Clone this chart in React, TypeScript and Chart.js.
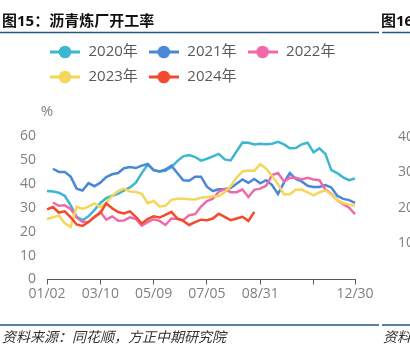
import React, { useEffect, useRef } from 'react';
import { Chart, registerables } from 'chart.js';

Chart.register(...registerables);

const FONT = '"Open Sans", "Noto Sans CJK SC", sans-serif';

const TITLE = '图15：沥青炼厂开工率';
const NEXT_TITLE = '图16';
const SOURCE = '资料来源：同花顺，方正中期研究院';
const NEXT_SOURCE = '资料来源';
const UNIT = '%';

const dates = [
  '01/02', '01/10', '01/17', '01/24', '01/31', '02/07', '02/14', '02/21', '02/28',
  '03/10', '03/17', '03/24', '03/31', '04/07', '04/14', '04/21', '04/28', '05/02',
  '05/09', '05/16', '05/23', '05/30', '06/06', '06/13', '06/20', '06/27', '06/30',
  '07/05', '07/12', '07/19', '07/26', '08/02', '08/09', '08/16', '08/23', '08/28',
  '08/31', '09/07', '09/14', '09/21', '09/28', '10/08', '10/15', '10/22', '10/29',
  '11/05', '11/12', '11/19', '11/26', '12/03', '12/10', '12/17', '12/30',
];
const shownTickIdx = [0, 9, 18, 27, 36, 52];
const blankTickIdx = [45];

const seriesNames = ['2020年', '2021年', '2022年', '2023年', '2024年'];
const seriesColors = ['#3db6d0', '#4a88d6', '#f06aa9', '#f5d65b', '#f24a2a'];

const v2020 = [37, 36.8, 36.3, 35, 31, 26.2, 24.8, 26.4, 29, 32, 34, 35, 35.8, 37.2, 38.5, 40.5, 44.5, 48, 45.7, 45.2, 45.5, 47, 49.5, 51.5, 52, 51.2, 49.7, 50.5, 51.5, 52.5, 50.2, 49.8, 53.5, 57.3, 57.2, 56.5, 56.8, 56.6, 56.8, 57.6, 56.5, 54.9, 55, 56.5, 57.2, 53.2, 54.8, 52.5, 45.7, 44.5, 42.7, 41.5, 42.2];
const v2021 = [null, 46.3, 45, 45, 43, 38, 37.2, 40.3, 39, 40.5, 42.8, 44, 44.5, 46.5, 47, 46.6, 47.6, 48.3, 45.7, 45.2, 46, 47.6, 44.5, 41.5, 41.3, 43, 43, 38.8, 37, 37.7, 37.8, 38.2, 40, 41.8, 40.4, 42, 40.2, 41.5, 39.5, 35.7, 40.5, 44.5, 42, 41, 39.2, 38.7, 38.7, 39.5, 38.5, 35, 33.7, 33.2, 32];
const v2022 = [null, 32.2, 30.8, 31, 29.5, 26, 24, 24, 26, 28.3, 25, 26.4, 24.6, 24.7, 26, 25.3, 22.5, 24, 25.2, 24.5, 22.8, 25.5, 25.3, 24.8, 26.9, 27.3, 30.5, 32.8, 33.8, 36.7, 37.8, 36.5, 36.5, 37.6, 34.5, 37.5, 38, 39.2, 43.7, 44.5, 41, 42.5, 42.5, 41.8, 42.5, 41.8, 41.5, 37.6, 35.8, 33.2, 31.5, 30, 27.3];
const v2023 = [25.3, 26, 26.8, 23.5, 22, 30.5, 29.5, 30.5, 31.8, 30.3, 32, 35, 37, 38, 36.8, 36.6, 35.8, 31.9, 32.9, 30.5, 30.8, 33.3, 33.8, 33.8, 33.6, 33.5, 34.2, 34.5, 34.8, 34.8, 36.5, 39, 42.5, 45.2, 45.6, 45.5, 48.2, 46.3, 43.3, 39.9, 35.6, 35.6, 37.5, 37.6, 36.4, 35.2, 36.5, 37.3, 35.5, 33.2, 32, 31.3, 30.8];
const v2024 = [29.3, 30.3, 28, 28.5, 26, 23, 22.4, 24, 26.2, 27.8, 31.8, 29.8, 28.2, 27.6, 28.5, 26.2, 23.4, 25.3, 26.4, 25.9, 27, 28.3, 25.5, 24.5, 22.8, 24, 25, 24.8, 25.5, 27.5, 26.2, 24.8, 25.5, 26.2, 24.5, 28.3];
const seriesValues = [v2020, v2021, v2022, v2023, v2024];

const yMin = 0;
const yMax = 60;
const yStep = 10;
const nextAxisLabels = ['40', '30', '20', '10'];

const RULE_COLOR = '#1f5a8c';

const legendShift = {
  id: 'legendShift',
  beforeInit(chart: any) {
    const legend = chart.legend;
    if (legend) {
      const orig = legend.fit;
      legend.fit = function () {
        orig.call(this);
        this.height += 41.5;
      };
    }
  },
  afterLayout(chart: any) {
    if (chart.legend) chart.legend.left = 39;
  },
};

const decor = {
  id: 'decor',
  afterDraw(chart: any) {
    const { ctx, chartArea } = chart;
    ctx.save();
    ctx.textBaseline = 'middle';
    ctx.textAlign = 'left';
    ctx.fillStyle = '#111111';
    ctx.font = `bold 15px ${FONT}`;
    ctx.fillText(TITLE, 2, 22);
    ctx.fillText(NEXT_TITLE, 381, 22);

    ctx.strokeStyle = RULE_COLOR;
    ctx.lineWidth = 1.5;
    [32.5, 325].forEach((y) => {
      ctx.beginPath();
      ctx.moveTo(0, y);
      ctx.lineTo(379, y);
      ctx.moveTo(382, y);
      ctx.lineTo(410, y);
      ctx.stroke();
    });

    ctx.fillStyle = '#7f7f7f';
    ctx.font = `15px ${FONT}`;
    ctx.textAlign = 'center';
    ctx.fillText(UNIT, chartArea.left, 112);

    ctx.textAlign = 'left';
    ctx.font = `14px ${FONT}`;
    nextAxisLabels.forEach((t, i) => ctx.fillText(t, 398, 137 + i * 35.4));

    ctx.fillStyle = '#333333';
    ctx.font = `italic 14px ${FONT}`;
    ctx.fillText(SOURCE, 2, 338);
    ctx.fillText(NEXT_SOURCE, 383, 338);
    ctx.restore();
  },
};

export default function App() {
  const ref = useRef<HTMLCanvasElement>(null);

  useEffect(() => {
    document.body.style.margin = '0';
    const canvas = ref.current;
    if (!canvas) return;

    const markers = seriesColors.map((c) => {
      const m = document.createElement('canvas');
      m.width = 30;
      m.height = 14;
      const g = m.getContext('2d')!;
      g.strokeStyle = c;
      g.lineWidth = 3;
      g.beginPath();
      g.moveTo(0, 7);
      g.lineTo(30, 7);
      g.stroke();
      g.fillStyle = c;
      g.beginPath();
      g.arc(15, 7, 6.3, 0, Math.PI * 2);
      g.fill();
      return m;
    });

    const isTick = (i: number) => shownTickIdx.includes(i) || blankTickIdx.includes(i);

    const chart = new Chart(canvas, {
      type: 'line',
      data: {
        labels: dates,
        datasets: seriesNames.map((name, i) => ({
          label: name,
          data: seriesValues[i],
          borderColor: seriesColors[i],
          backgroundColor: seriesColors[i],
          borderWidth: 2.5,
          pointRadius: 0,
          pointHoverRadius: 0,
          tension: 0,
          fill: false,
          spanGaps: false,
          order: seriesNames.length - i,
        })),
      },
      options: {
        animation: false,
        responsive: false,
        devicePixelRatio: 1,
        layout: { padding: { top: 34.5, left: 0, right: 55, bottom: 42.5 } },
        plugins: {
          tooltip: { enabled: false },
          title: { display: false },
          legend: {
            display: true,
            position: 'top',
            align: 'start',
            labels: {
              usePointStyle: true,
              pointStyleWidth: 32,
              boxHeight: 15,
              padding: 10,
              color: '#595959',
              font: { size: 15, family: FONT },
              sort: (a: any, b: any) => a.datasetIndex - b.datasetIndex,
              generateLabels: (ch: any) => {
                const items = (Chart as any).defaults.plugins.legend.labels.generateLabels(ch);
                items.forEach((it: any) => {
                  it.pointStyle = markers[it.datasetIndex];
                  it.lineWidth = 0;
                });
                return items;
              },
            },
          },
        },
        scales: {
          x: {
            type: 'category',
            offset: false,
            grid: {
              display: true,
              drawOnChartArea: false,
              drawTicks: true,
              tickLength: 5,
              lineWidth: 1,
              color: (c: any) => (isTick(c.index) ? '#595959' : 'rgba(0,0,0,0)'),
            },
            border: { display: true, color: '#595959', width: 1 },
            ticks: {
              autoSkip: false,
              maxRotation: 0,
              minRotation: 0,
              padding: 1,
              color: '#7f7f7f',
              font: { size: 14, family: FONT },
              callback: (_v: any, idx: number) => (shownTickIdx.includes(idx) ? dates[idx] : ''),
            },
            afterFit: (s: any) => {
              s.height = 30;
            },
          },
          y: {
            min: yMin,
            max: yMax,
            grid: { display: false, drawTicks: false },
            border: { display: false },
            ticks: {
              stepSize: yStep,
              padding: 11,
              color: '#7f7f7f',
              font: { size: 14, family: FONT },
            },
            afterFit: (s: any) => {
              s.width = 47;
            },
          },
        },
      } as any,
      plugins: [legendShift, decor],
    });

    return () => chart.destroy();
  }, []);

  return (
    <div style={{ width: 410, height: 352, position: 'relative' }}>
      <canvas ref={ref} width={410} height={352} style={{ display: 'block', width: 410, height: 352 }} />
    </div>
  );
}
